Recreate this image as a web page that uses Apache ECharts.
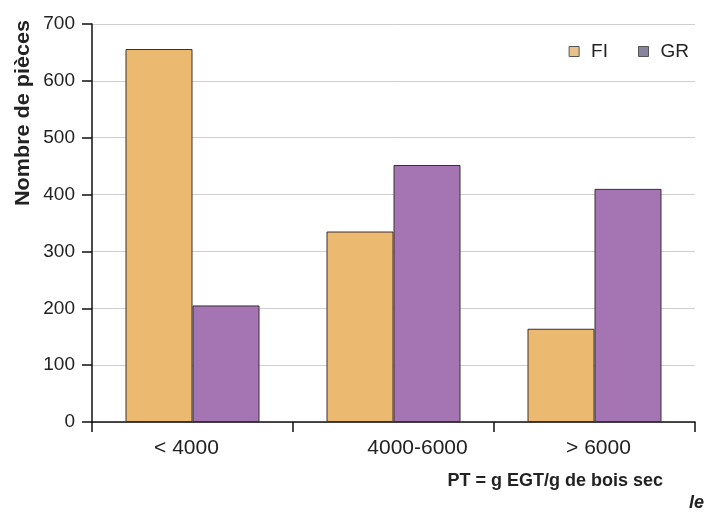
<!DOCTYPE html>
<html>
<head>
<meta charset="utf-8">
<script src="https://cdn.jsdelivr.net/npm/echarts@6/dist/echarts.min.js"></script>
<style>
  html, body { margin: 0; padding: 0; background: #fff; }
  #chart { width: 706px; height: 512px; }
</style>
</head>
<body>
<div id="chart"></div>
<script>
// catégories de PT et nombre de pièces par groupe
var categories = ['< 4000', '4000-6000', '> 6000'];
var valuesFI = [656, 335, 164];
var valuesGR = [205, 452, 410];
var yTicks = [0, 100, 200, 300, 400, 500, 600, 700];

var chart = echarts.init(document.getElementById('chart'));
var font = 'Liberation Sans, Arial, sans-serif';

// petits décalages des étiquettes comme sur l'original
var labelPads = [[0, 12, 0, 0], [0, 0, 0, 48], [0, 0, 0, 8]];

var option = {
    animation: false,
    textStyle: { fontFamily: font },
    grid: { left: 92, right: 11, top: 24, bottom: 90, containLabel: false },
    legend: {
        right: 12,
        top: 37,
        icon: 'rect',
        itemWidth: 10,
        itemHeight: 10,
        itemGap: 30,
        textStyle: { fontSize: 19, color: '#222', padding: [0, 0, 0, 7] },
        data: [
            { name: 'FI', itemStyle: { color: '#e8c28a', borderColor: '#555', borderWidth: 1 } },
            { name: 'GR', itemStyle: { color: '#8884a0', borderColor: '#555', borderWidth: 1 } }
        ]
    },
    xAxis: {
        type: 'category',
        data: categories.map(function (c, i) {
            return { value: c, textStyle: { padding: labelPads[i] } };
        }),
        axisLine: { lineStyle: { color: '#111', width: 1.5 } },
        axisTick: { show: true, length: 10, inside: false, lineStyle: { color: '#111', width: 1.5 } },
        axisLabel: { fontSize: 21, color: '#222', margin: 16 }
    },
    yAxis: {
        type: 'value',
        min: 0,
        max: 700,
        interval: 100,
        axisLine: { show: true, lineStyle: { color: '#111', width: 1.5 } },
        axisTick: { show: true, length: 10, lineStyle: { color: '#111', width: 1.5 } },
        axisLabel: {
            fontSize: 19, color: '#222', margin: 17,
            formatter: function (v) { return yTicks.indexOf(v) >= 0 ? String(v) : ''; }
        },
        splitLine: { show: true, lineStyle: { color: '#cfcfcf', width: 1 } }
    },
    series: [
        {
            name: 'FI',
            type: 'bar',
            data: valuesFI,
            barWidth: 67,
            barGap: '0%',
            itemStyle: { color: '#ebb96f', borderColor: '#3a3030', borderWidth: 1 }
        },
        {
            name: 'GR',
            type: 'bar',
            data: valuesGR,
            barWidth: 67,
            barGap: '0%',
            itemStyle: { color: '#a574b2', borderColor: '#3a3030', borderWidth: 1 }
        }
    ],
    graphic: [
        {
            type: 'text',
            x: 23,
            y: 113,
            rotation: Math.PI / 2,
            scaleX: 1.08,
            style: {
                text: 'Nombre de pièces',
                font: 'bold 20px ' + font,
                fill: '#222',
                textAlign: 'center',
                textVerticalAlign: 'middle'
            }
        },
        {
            type: 'text',
            right: 43,
            top: 472,
            style: {
                text: 'PT = g EGT/g de bois sec',
                font: 'bold 18px ' + font,
                fill: '#222'
            }
        },
        {
            type: 'text',
            right: 2,
            top: 494,
            style: {
                text: 'le',
                font: 'italic bold 18px ' + font,
                fill: '#222'
            }
        }
    ]
};

chart.setOption(option);
</script>
</body>
</html>
